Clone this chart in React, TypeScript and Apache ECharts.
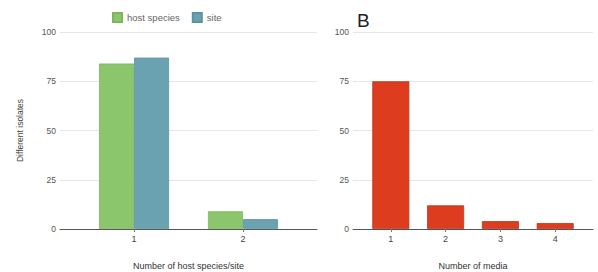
import React, { useEffect, useRef } from "react";
import * as echarts from "echarts";

const hostCategories = [1, 2];
const hostSpeciesValues = [84, 9];
const siteValues = [87, 5];
const mediaCategories = [1, 2, 3, 4];
const mediaValues = [75, 12, 4, 3];
const yTicks = [0, 25, 50, 75, 100];

const FONT = "Liberation Sans, Arial, sans-serif";

export default function App() {
  const ref = useRef<HTMLDivElement>(null);
  useEffect(() => {
    if (!ref.current) return;
    const chart = echarts.init(ref.current, null, { renderer: "svg" });
    const yAxisBase = (gridIndex: number, name: string) => ({
      type: "value",
      gridIndex,
      min: yTicks[0],
      max: yTicks[yTicks.length - 1],
      interval: 25,
      name,
      nameLocation: "middle",
      nameGap: 36,
      nameTextStyle: { fontFamily: FONT, fontSize: 8.5, color: "#444" },
      axisLine: { show: false },
      axisTick: { show: false },
      axisLabel: { fontFamily: FONT, fontSize: 8.5, color: "#555", margin: 4 },
      splitLine: { lineStyle: { color: "#e6e6e6", width: 1 } },
    });
    const xAxisBase = (gridIndex: number, cats: number[], name: string, min: number, max: number) => ({
      type: "value",
      gridIndex,
      min,
      max,
      name,
      nameLocation: "middle",
      nameGap: 32,
      nameTextStyle: { fontFamily: FONT, fontSize: 9, color: "#333" },
      axisLine: { onZero: false, lineStyle: { color: "#555", width: 1 } },
      axisTick: { show: true, length: 3, customValues: cats, lineStyle: { color: "#777" } },
      axisLabel: { fontFamily: FONT, fontSize: 9, color: "#444", margin: 5, customValues: cats },
      splitLine: { show: false },
    });
    chart.setOption({
      animation: false,
      backgroundColor: "#fff",
      legend: {
        data: ["host species", "site"],
        left: 107,
        top: 7,
        icon: "rect",
        itemWidth: 9,
        itemHeight: 9,
        itemGap: 12,
        textStyle: { fontFamily: FONT, fontSize: 9.5, color: "#666" },
      },
      grid: [
        { left: 60, right: 281, top: 32, bottom: 43, outerBoundsMode: "none" },
        { left: 353, right: 5, top: 32, bottom: 43, outerBoundsMode: "none" },
      ],
      xAxis: [
        xAxisBase(0, hostCategories, "Number of host species/site", 0.32, 2.68),
        xAxisBase(1, mediaCategories, "Number of media", 0.31, 4.69),
      ],
      yAxis: [yAxisBase(0, "Different isolates"), yAxisBase(1, "")],
      graphic: [
        {
          type: "text",
          left: 357,
          top: 11,
          style: { text: "B", fontFamily: FONT, fontSize: 19, fill: "#222" },
        },
      ],
      series: [
        {
          name: "host species",
          type: "bar",
          xAxisIndex: 0,
          yAxisIndex: 0,
          barWidth: 35,
          barGap: "0%",
          data: hostCategories.map((c, i) => [c, hostSpeciesValues[i]]),
          itemStyle: { color: "#8cc66c", borderColor: "#7fb45f", borderWidth: 0.8 },
        },
        {
          name: "site",
          type: "bar",
          xAxisIndex: 0,
          yAxisIndex: 0,
          barWidth: 35,
          barGap: "0%",
          data: hostCategories.map((c, i) => [c, siteValues[i]]),
          itemStyle: { color: "#6aa2b2", borderColor: "#5e92a0", borderWidth: 0.8 },
        },
        {
          name: "media",
          type: "bar",
          xAxisIndex: 1,
          yAxisIndex: 1,
          barWidth: 37,
          data: mediaCategories.map((c, i) => [c, mediaValues[i]]),
          itemStyle: { color: "#dd3c1e", borderColor: "#c03418", borderWidth: 0.8 },
        },
      ],
    });
    return () => chart.dispose();
  }, []);
  return <div ref={ref} style={{ width: 598, height: 272, position: "absolute", left: 0, top: 0 }} />;
}
